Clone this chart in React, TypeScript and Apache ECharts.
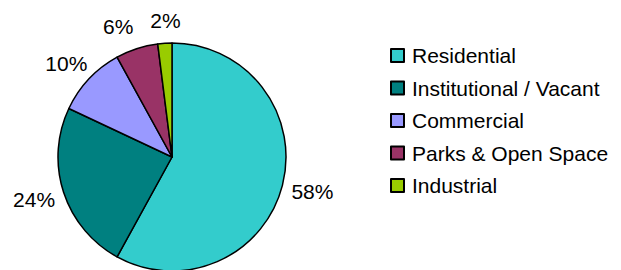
import React, { useEffect, useRef } from "react";
import * as echarts from "echarts";

const categories = ["Residential", "Institutional / Vacant", "Commercial", "Parks & Open Space", "Industrial"];
const values = [58, 24, 10, 6, 2];
const colors = ["#33CCCC", "#008080", "#9999FF", "#993366", "#99CC00"];

const FONT = "'Liberation Sans', Arial, sans-serif";
const FS = 21;
const CX = 172;
const CY = 157;
const R = 114;

function labelText(i: number) {
  const total = values.reduce((a, b) => a + b, 0);
  return Math.round((values[i] / total) * 100) + "%";
}

function computeLabelPositions() {
  const total = values.reduce((a, b) => a + b, 0);
  const canvas = document.createElement("canvas");
  const ctx = canvas.getContext("2d")!;
  ctx.font = `${FS}px ${FONT}`;
  const h = 26;
  const d = 10;
  let acc = 0;
  const pos = values.map((v, i) => {
    const mid = ((acc + v / 2) / total) * Math.PI * 2;
    acc += v;
    const dx = Math.sin(mid);
    const dy = -Math.cos(mid);
    const w = ctx.measureText(labelText(i)).width;
    return {
      x: CX + dx * (R + d) + (dx * w) / 2,
      y: CY + dy * (R + d) + (dy * h) / 2,
      w,
      h: FS,
      dx,
    };
  });
  const gap = 17;
  for (let k = 0; k < 3; k++) {
    for (let i = 0; i < pos.length; i++) {
      for (let j = i + 1; j < pos.length; j++) {
        const a = pos[i];
        const b = pos[j];
        const vOverlap = Math.abs(a.y - b.y) < (a.h + b.h) / 2;
        if (!vOverlap) continue;
        const left = a.x < b.x ? a : b;
        const right = a.x < b.x ? b : a;
        const need = left.x + left.w / 2 + gap - (right.x - right.w / 2);
        if (need > 0) {
          const wl = Math.abs(left.dx);
          const wr = Math.abs(right.dx);
          const s = wl + wr || 1;
          left.x -= (need * wl) / s;
          right.x += (need * wr) / s;
        }
      }
    }
  }
  return pos;
}

export default function App() {
  const ref = useRef<HTMLDivElement>(null);
  useEffect(() => {
    if (!ref.current) return;
    const chart = echarts.init(ref.current, undefined, { renderer: "svg" });
    const pos = computeLabelPositions();
    chart.setOption({
      animation: false,
      backgroundColor: "#ffffff",
      legend: {
        orient: "vertical",
        left: 390,
        top: 45,
        padding: 0,
        itemWidth: 13,
        itemHeight: 13,
        itemGap: 11.5,
        icon: "rect",
        itemStyle: { borderColor: "#000", borderWidth: 2 },
        textStyle: { fontSize: FS, fontFamily: FONT, color: "#000", padding: [0, 0, 0, 3] },
        data: categories,
      },
      series: [
        {
          type: "pie",
          center: [CX, CY],
          radius: R,
          startAngle: 90,
          clockwise: true,
          avoidLabelOverlap: false,
          itemStyle: { borderColor: "#000", borderWidth: 1.5 },
          label: {
            show: true,
            position: "outside",
            fontSize: FS,
            fontFamily: FONT,
            color: "#000",
            formatter: (p: any) => labelText(p.dataIndex),
          },
          labelLine: { show: false },
          labelLayout: (params: any) => {
            const p = pos[params.dataIndex];
            return { x: p.x, y: p.y, align: "center", verticalAlign: "middle" };
          },
          emphasis: { disabled: true },
          data: categories.map((name, i) => ({
            name,
            value: values[i],
            itemStyle: { color: colors[i] },
          })),
        },
      ],
    });
    return () => chart.dispose();
  }, []);
  return (
    <div
      ref={ref}
      style={{ position: "fixed", left: 0, top: 0, width: 621, height: 270 }}
    />
  );
}
